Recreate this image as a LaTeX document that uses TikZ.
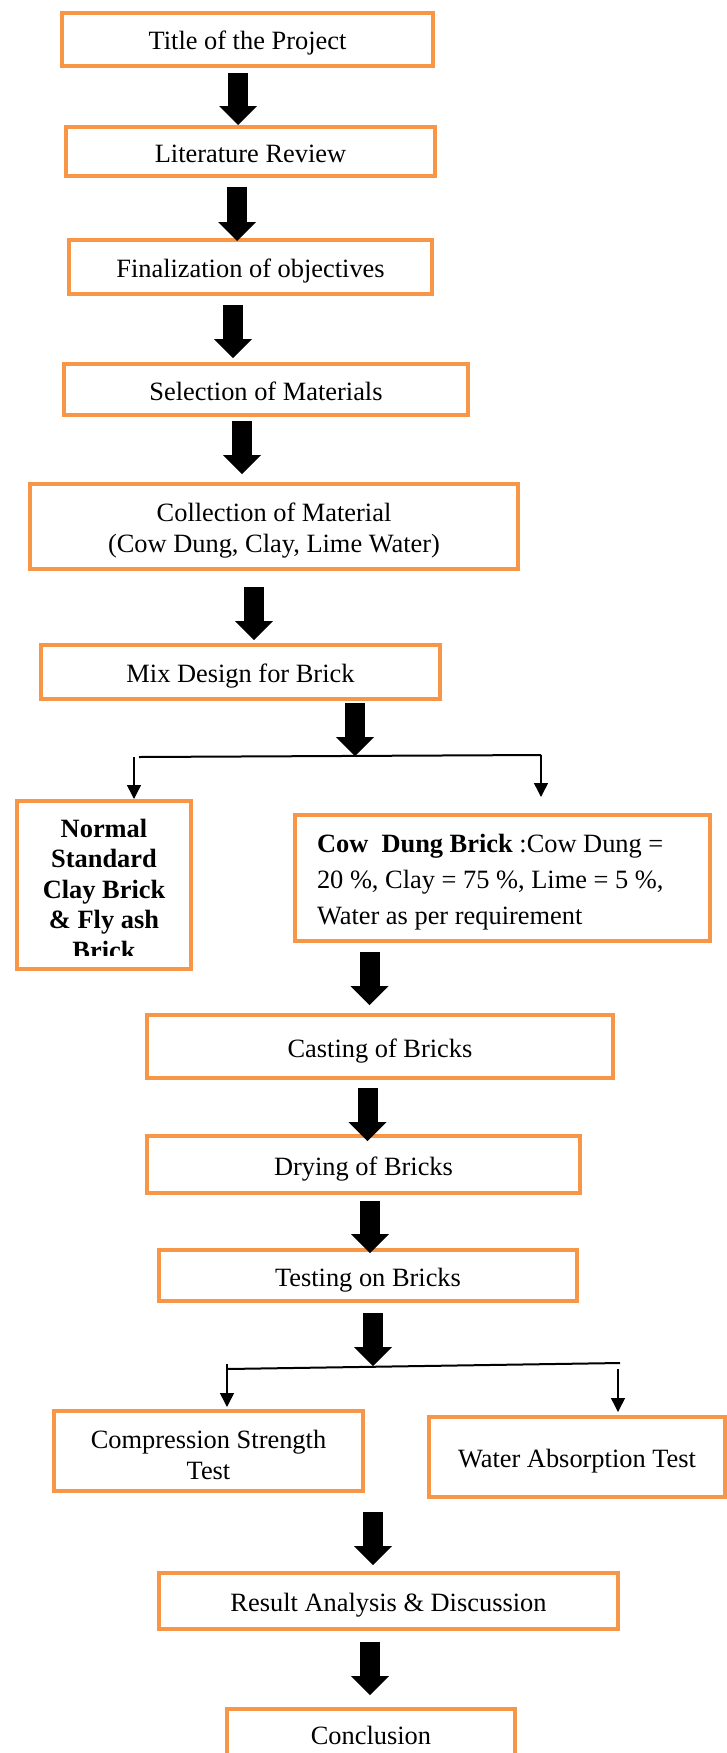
\documentclass[tikz,border=0pt]{standalone}
\usepackage{fontspec}
\setmainfont{Liberation Serif}
\usetikzlibrary{arrows.meta}
\definecolor{boxorange}{HTML}{F79646}
\begin{document}
\begin{tikzpicture}
    [x=1pt,y=-1pt,
     every node/.style={font=\fontsize{26.4pt}{31pt}\selectfont},
     flow box/.style={draw=boxorange,line width=4pt,inner sep=0pt,align=center},
     one line/.style={text height=26pt,text depth=5pt},
     flow arrow/.style={line width=20pt,-{Triangle[width=38pt,length=19pt,line width=0pt]}},
     fork line/.style={line width=2pt},
     fork arrow/.style={line width=1.5pt,-{Triangle[width=14pt,length=14pt]}}]
    \useasboundingbox (0,0) rectangle (727,1753);
    \clip (0,0) rectangle (727,1753);
    \node[flow box,one line,minimum width=371pt,minimum height=53pt] (title) at (247.5,39.5) {Title of the Project};
    \node[flow box,one line,minimum width=369pt,minimum height=49pt] (lit) at (250.5,151.5) {Literature Review};
    \node[flow box,one line,minimum width=363pt,minimum height=54pt] (final) at (250.5,267) {Finalization of objectives};
    \node[flow box,one line,minimum width=404pt,minimum height=51pt] (select) at (266,389.5) {Selection of Materials};
    \node[flow box,minimum width=488pt,minimum height=85pt] (collect) at (274,526.5)
      {\rule{0pt}{26pt}Collection of Material\\(Cow Dung, Clay, Lime Water)};
    \node[flow box,one line,minimum width=399pt,minimum height=54pt] (mix) at (240.5,672) {Mix Design for Brick};
    \node[flow box,minimum width=174pt,minimum height=168pt] (normal) at (104,885) {};
    \begin{scope}
      \clip (17,801) rectangle (191,955);
      \node[align=center,font=\bfseries\fontsize{26.4pt}{30.5pt}\selectfont] (normal text) at (104,889)
        {Normal\\Standard\\Clay Brick\\\& Fly ash\\Brick};
    \end{scope}
    \node[flow box,align=flush left,text width=371pt,inner xsep=22pt,minimum height=126pt,
          font=\fontsize{26.4pt}{36pt}\selectfont] (cow) at (502.5,878)
      {\rule{0pt}{26pt}\textbf{Cow\ \ Dung Brick} :Cow Dung =\\20 \%, Clay = 75 \%, Lime = 5 \%,\\Water as per requirement};
    \node[flow box,one line,minimum width=466pt,minimum height=63pt] (cast) at (380,1046.5) {Casting of Bricks};
    \node[flow box,one line,minimum width=433pt,minimum height=57pt] (dry) at (363.5,1164.5) {Drying of Bricks};
    \node[flow box,one line,minimum width=418pt,minimum height=51pt] (test) at (368,1275.5) {Testing on Bricks};
    \node[flow box,minimum width=309pt,minimum height=80pt] (comp) at (208.5,1451)
      {\rule{0pt}{26pt}Compression Strength\\Test};
    \node[flow box,one line,minimum width=296pt,minimum height=80pt] (water) at (577,1457) {Water Absorption Test};
    \node[flow box,one line,minimum width=459pt,minimum height=56pt] (result) at (388.5,1601) {Result Analysis \& Discussion};
    \node[flow box,one line,minimum width=288pt,minimum height=50pt] (concl) at (371,1734) {Conclusion};
    \coordinate (fork1) at (355,756);
    \coordinate (fork2) at (373,1366);
    \draw[fork line] (139,757) coordinate (fork1 left) -- (541,755) coordinate (fork1 right);
    \draw[fork line] (227,1369) coordinate (fork2 left) -- (620,1363) coordinate (fork2 right);
    \draw[fork arrow] ([xshift=-5pt]fork1 left) -- ([xshift=30pt]normal.north);
    \draw[fork arrow,shorten >=16pt] (fork1 right) -- ([xshift=38.5pt]cow.north);
    \draw[fork arrow,shorten >=2pt] ([yshift=5pt]fork2 left) -- ([xshift=18.5pt]comp.north);
    \draw[fork arrow,shorten >=3pt] ([xshift=-2pt,yshift=-6pt]fork2 right) -- ([xshift=41pt]water.north);
    \draw[flow arrow] ([xshift=-9.5pt,yshift=-5pt]title.south) -- ([xshift=-12.5pt]lit.north);
    \draw[flow arrow,shorten >=-3pt] ([xshift=-13.5pt,yshift=-9pt]lit.south) -- ([xshift=-13.5pt]final.north);
    \draw[flow arrow,shorten >=4pt] ([xshift=-17.5pt,yshift=-9pt]final.south) -- ([xshift=-33pt]select.north);
    \draw[flow arrow,shorten >=8pt] ([xshift=-24pt,yshift=-4pt]select.south) -- ([xshift=-32pt]collect.north);
    \draw[flow arrow,shorten >=3pt] ([xshift=-20pt,yshift=-16pt]collect.south) -- ([xshift=13.5pt]mix.north);
    \draw[flow arrow] ([xshift=114.5pt,yshift=-2pt]mix.south) -- (fork1);
    \draw[flow arrow,shorten >=8pt] ([xshift=-133pt,yshift=-9pt]cow.south) -- ([xshift=-10.5pt]cast.north);
    \draw[flow arrow,shorten >=-7pt] ([xshift=-12.5pt,yshift=-8pt]cast.south) -- ([xshift=4pt]dry.north);
    \draw[flow arrow,shorten >=-5pt] ([xshift=6.5pt,yshift=-6pt]dry.south) -- ([xshift=2pt]test.north);
    \draw[flow arrow] ([xshift=5pt,yshift=-10pt]test.south) -- (fork2);
    \draw[flow arrow,shorten >=6pt] ([xshift=164.5pt,yshift=-19pt]comp.south) -- ([xshift=-15.5pt]result.north);
    \draw[flow arrow,shorten >=12pt] ([xshift=-18.5pt,yshift=-11pt]result.south) -- ([xshift=-1pt]concl.north);
\end{tikzpicture}
\end{document}
